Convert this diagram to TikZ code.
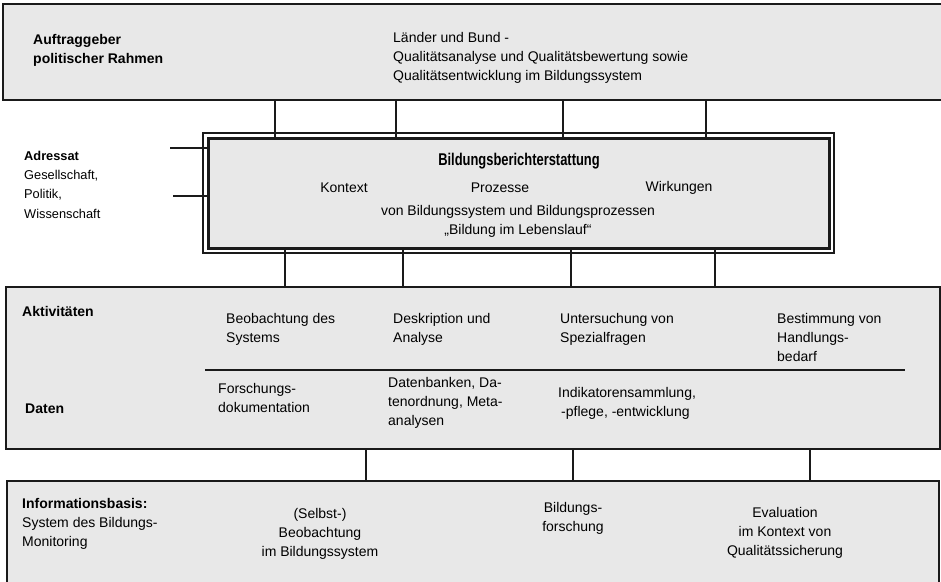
\documentclass[tikz,border=0pt]{standalone}
\usepackage{fontspec}
\setmainfont{Liberation Sans}
\newfontfamily\titlefont[FakeStretch=0.76]{Liberation Sans Bold}
\definecolor{boxgray}{HTML}{E8E8E8}
\definecolor{edge}{HTML}{1A1A1A}
\begin{document}
\begin{tikzpicture}[x=1pt,y=-1pt,
  panel/.style={draw=edge,line width=1.6pt,fill=boxgray},
  conn/.style={draw=edge,line width=1.1pt},
  txt/.style={inner sep=0pt,font=\fontsize{14}{19}\selectfont},
  lbl/.style={txt,anchor=north west,align=left},
  ctr/.style={txt,anchor=north,align=center},
  bold/.style={font=\fontsize{14}{19}\selectfont\bfseries}]
\useasboundingbox (0,0) rectangle (941,581);
% panels
\path[panel] (3,4) rectangle (950,100);
\node[inner sep=0pt,minimum width=944pt,minimum height=96pt] (auftrag) at (476.5,52) {};
\draw[edge,line width=1.3pt] (203,133) rectangle (834,253);
\node[draw=edge,line width=3pt,fill=boxgray,inner sep=0pt,minimum width=621pt,minimum height=110pt] (bericht) at (518.5,193) {};
\node[panel,inner sep=0pt,minimum width=934pt,minimum height=162pt] (aktiv) at (473,368) {};
\path[panel] (7,481) rectangle (939,600);
\node[inner sep=0pt,minimum width=932pt,minimum height=119pt] (basis) at (473,540.5) {};
% coordinates for connectors
\foreach \n/\x in {a1/275,a2/396,a3/563,a4/706,b1/285,b2/403,b3/571,b4/715,c1/366,c2/573,c3/810}
  \coordinate (\n) at (\x,0);
\coordinate (sepL) at (205,370);
\coordinate (sepR) at (905,370);
\coordinate (ad1) at (170,148);
\coordinate (ad2) at (173,196);
% connectors
\foreach \n in {a1,a2,a3,a4} \draw[conn] (auftrag.south -| \n) -- (bericht.north -| \n);
\foreach \n in {b1,b2,b3,b4} \draw[conn] (bericht.south -| \n) -- (aktiv.north -| \n);
\foreach \n in {c1,c2,c3} \draw[conn] (aktiv.south -| \n) -- (basis.north -| \n);
\draw[conn] (ad1) -- (bericht.west |- ad1);
\draw[conn] (ad2) -- (bericht.west |- ad2);
\draw[edge,line width=1.8pt] (sepL) -- (sepR);
% texts top
\node[lbl,bold] (t1) at (33,34) {Auftraggeber\\politischer Rahmen};
\node[lbl] (t2) at (393,32) {Länder und Bund -\\Qualitätsanalyse und Qualitätsbewertung sowie\\Qualitätsentwicklung im Bildungssystem};
% Adressat
\node[lbl,font=\fontsize{12.8}{19.2}\selectfont] (t3) at (24,151) {\textbf{Adressat}\\Gesellschaft,\\Politik,\\Wissenschaft};
% middle
\node[txt,font=\fontsize{17}{20}\titlefont] (t4) at (519,161) {Bildungsberichterstattung};
\node[txt] (t5) at (344,188) {Kontext};
\node[txt] (t6) at (500,188) {Prozesse};
\node[txt] (t7) at (679,188) {Wirkungen};
\node[ctr] (t8) at (518,205) {von Bildungssystem und Bildungsprozessen\\„Bildung im Lebenslauf“};
% Aktivitaeten / Daten
\node[txt,bold,anchor=west] (t9) at (22,311) {Aktivitäten};
\node[txt,bold,anchor=west] (t10) at (25,409) {Daten};
\node[lbl] (t11) at (226,313) {Beobachtung des\\Systems};
\node[lbl] (t12) at (393,313) {Deskription und\\Analyse};
\node[lbl] (t13) at (560,313) {Untersuchung von\\Spezialfragen};
\node[lbl] (t14) at (777,313) {Bestimmung von\\Handlungs-\\bedarf};
\node[lbl] (t15) at (218,383) {Forschungs-\\dokumentation};
\node[lbl] (t16) at (388,377) {Datenbanken, Da-\\tenordnung, Meta-\\analysen};
\node[lbl] (t17) at (558,387) {Indikatorensammlung,\\\hspace*{3pt}-pflege, -entwicklung};
% Informationsbasis
\node[lbl] (t18) at (22,498) {\textbf{Informationsbasis:}\\System des Bildungs-\\Monitoring};
\node[ctr] (t19) at (320,508) {(Selbst-)\\Beobachtung\\im Bildungssystem};
\node[ctr] (t20) at (573,502) {Bildungs-\\forschung};
\node[ctr] (t21) at (785,507) {Evaluation\\im Kontext von\\Qualitätssicherung};
\end{tikzpicture}
\end{document}
